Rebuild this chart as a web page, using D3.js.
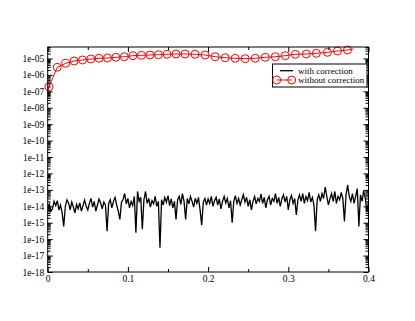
<!DOCTYPE html>
<html><head><meta charset="utf-8">
<script src="https://cdn.jsdelivr.net/npm/d3@7"></script>
<style>body{margin:0;background:#fff}svg{display:block}</style>
</head><body>
<script>
// ---- data ----
const xTickValues = [0, 0.1, 0.2, 0.3, 0.4];
const xTickLabels = ["0", "0.1", "0.2", "0.3", "0.4"];
const yTickValues = [1e-18,1e-17,1e-16,1e-15,1e-14,1e-13,1e-12,1e-11,1e-10,1e-9,1e-8,1e-7,1e-6,1e-5];
const yTickLabels = ["1e-18","1e-17","1e-16","1e-15","1e-14","1e-13","1e-12","1e-11","1e-10","1e-09","1e-08","1e-07","1e-06","1e-05"];
const seriesNames = ["with correction", "without correction"];

// "with correction": sampled every 0.002 from 0 to 0.4
const withStep = 0.002;
const withCorrection = [
 8e-15,1.4e-14,5e-15,7e-15,2e-14,1.1e-14,2.2e-14,6e-15,1.2e-14,4e-15,6e-16,1e-14,2.5e-14,1.6e-14,6e-15,1.8e-14,9e-15,4e-15,1.3e-14,7e-15,
 1.6e-14,5e-15,1.1e-14,2.4e-14,1e-14,6e-15,1.5e-14,3e-14,9e-15,2e-14,5e-15,1.2e-14,2.8e-14,1.6e-14,7e-15,1.8e-14,1.2e-14,3e-16,1.5e-14,2.5e-14,
 8e-15,2e-14,3.5e-14,1.2e-14,5e-15,1.6e-15,1.8e-14,2.6e-14,6e-14,1.4e-14,3e-14,8e-15,2e-14,1.1e-14,4e-14,2.5e-16,8e-14,2e-14,3.5e-14,4e-16,
 2.5e-14,8e-14,1.5e-14,3e-14,9e-15,2.2e-14,1.4e-14,4e-14,1e-14,2e-14,3e-17,2.5e-14,1.2e-14,3.5e-14,1.8e-14,4.5e-14,1.1e-14,2.8e-14,8e-15,2e-14,
 1.6e-15,2.5e-14,4e-14,1.3e-14,6e-14,2e-14,1.6e-15,3e-14,1.4e-14,4e-14,2e-14,9e-15,3e-14,1.5e-14,3.5e-14,6e-15,7e-16,1.8e-14,3e-14,1.2e-14,
 2.8e-14,1.5e-14,4e-14,1e-14,2.2e-14,3.5e-14,1.2e-14,2.8e-14,7e-15,2e-14,4e-14,1.6e-14,3e-14,8e-15,2.2e-14,1e-15,2e-14,4.5e-14,1.5e-14,3e-14,
 1.2e-14,2.5e-14,5e-14,1.8e-14,3.5e-14,1e-14,2.5e-14,6e-15,2e-14,4e-14,1.4e-14,3e-14,2e-14,5.5e-14,1.5e-14,3.5e-14,8e-15,2.5e-14,4e-14,1.2e-14,
 3e-14,2e-14,6e-14,1.5e-14,3.5e-14,1e-14,2.8e-14,5e-14,1.8e-14,4e-14,6e-15,2.5e-14,4.5e-14,1.5e-14,3e-14,3e-15,2.5e-14,5e-14,2e-14,6e-14,
 1.5e-14,4e-14,2.2e-14,7e-14,1.8e-14,3.5e-14,1.2e-14,3e-16,2.5e-14,5e-14,2e-14,6e-14,3e-14,1.5e-13,4e-14,1.2e-14,3e-14,6e-14,2e-14,8e-14,
 1.5e-14,4e-14,2.5e-14,7e-14,3e-14,1.2e-15,5e-14,2e-13,4e-14,2e-14,6e-14,1.5e-14,4e-14,1.2e-13,6e-16,5e-14,2e-14,9e-14,3e-14,5e-15,2e-14
];

// "without correction"
const withoutX = [0,0.0016,0.0119,0.0225,0.0329,0.0434,0.0538,0.0641,0.0746,0.085,0.0956,0.1063,0.1169,0.1275,0.1381,0.1488,0.16,
 0.1713,0.1838,0.1963,0.2088,0.2213,0.2338,0.2463,0.2588,0.2713,0.2838,0.2963,0.3088,0.3225,0.335,0.3488,0.3613,0.3738,0.3813];
const withoutY = [9e-8,1.9e-7,2.9e-6,5.1e-6,7.0e-6,8.1e-6,9.3e-6,1.03e-5,1.07e-5,1.18e-5,1.28e-5,1.48e-5,1.56e-5,1.63e-5,1.7e-5,1.8e-5,1.87e-5,
 1.87e-5,1.8e-5,1.63e-5,1.28e-5,1.11e-5,1.03e-5,9.7e-6,1.03e-5,1.18e-5,1.28e-5,1.48e-5,1.8e-5,1.87e-5,2.06e-5,2.37e-5,2.85e-5,3.28e-5,3.8e-5];
const withoutMarked = withoutX.map((d, i) => i > 0 && i < withoutX.length - 1);

// ---- layout ----
const W = 415, H = 321;
const L = 47.7, R = 368.5, T = 47, B = 272;
const font = "'Liberation Serif', 'Times New Roman', serif";

const svg = d3.select("body").append("svg").attr("width", W).attr("height", H)
  .style("background", "#fff");

const x = d3.scaleLinear().domain([0, 0.4]).range([L, R]);
const y = d3.scaleLog().domain([1e-18, 5e-5]).range([B, T]);

// minor ticks
const xMinor = [0.05, 0.15, 0.25, 0.35];
const yMinor = [];
for (let e = -18; e <= -5; e++) for (let k = 2; k <= 9; k++) {
  const v = k * Math.pow(10, e);
  if (v <= 5e-5 * 1.0001) yMinor.push(v);
}

function styleAxis(g) {
  g.select(".domain").remove();
  g.selectAll("line").attr("stroke", "#000").attr("stroke-width", 1);
  g.selectAll("text").attr("font-family", font).attr("font-size", 9.5).attr("fill", "#000");
}

// plot lines (clipped)
svg.append("clipPath").attr("id", "clip").append("rect")
  .attr("x", L).attr("y", T).attr("width", R - L).attr("height", B - T);
const plot = svg.append("g").attr("clip-path", "url(#clip)");

const lineWith = d3.line().x((d, i) => x(i * withStep)).y(d => y(d));
plot.append("path").datum(withCorrection).attr("d", lineWith)
  .attr("fill", "none").attr("stroke", "#000").attr("stroke-width", 1.3).attr("stroke-linejoin", "miter");

const redPts = withoutX.map((v, i) => ({ x: v, y: withoutY[i], m: withoutMarked[i] }));
const lineWithout = d3.line().x(d => x(d.x)).y(d => y(d.y)).curve(d3.curveLinear);
plot.append("path").datum(redPts).attr("d", lineWithout)
  .attr("fill", "none").attr("stroke", "#ff0000").attr("stroke-width", 1);
svg.append("g").selectAll("circle").data(redPts.filter(d => d.m)).join("circle")
  .attr("cx", d => x(d.x)).attr("cy", d => y(d.y)).attr("r", 4)
  .attr("fill", "none").attr("stroke", "#ff0000").attr("stroke-width", 1);

// axes
const gB = svg.append("g").attr("transform", `translate(0,${B})`)
  .call(d3.axisBottom(x).tickValues(xTickValues).tickFormat((d, i) => xTickLabels[i]).tickSize(-5).tickPadding(3));
styleAxis(gB);
const gBm = svg.append("g").attr("transform", `translate(0,${B})`)
  .call(d3.axisBottom(x).tickValues(xMinor).tickFormat("").tickSize(-3));
styleAxis(gBm);
const gT = svg.append("g").attr("transform", `translate(0,${T})`)
  .call(d3.axisTop(x).tickValues(xTickValues).tickFormat("").tickSize(-5));
styleAxis(gT);
const gTm = svg.append("g").attr("transform", `translate(0,${T})`)
  .call(d3.axisTop(x).tickValues(xMinor).tickFormat("").tickSize(-3));
styleAxis(gTm);

const gL = svg.append("g").attr("transform", `translate(${L},0)`)
  .call(d3.axisLeft(y).tickValues(yTickValues).tickFormat((d, i) => yTickLabels[i]).tickSize(-5).tickPadding(3.5));
styleAxis(gL);
const gLm = svg.append("g").attr("transform", `translate(${L},0)`)
  .call(d3.axisLeft(y).tickValues(yMinor).tickFormat("").tickSize(-3));
styleAxis(gLm);
const gR = svg.append("g").attr("transform", `translate(${R},0)`)
  .call(d3.axisRight(y).tickValues(yTickValues).tickFormat("").tickSize(-5));
styleAxis(gR);
const gRm = svg.append("g").attr("transform", `translate(${R},0)`)
  .call(d3.axisRight(y).tickValues(yMinor).tickFormat("").tickSize(-3));
styleAxis(gRm);

// frame
svg.append("rect").attr("x", L).attr("y", T).attr("width", R - L).attr("height", B - T)
  .attr("fill", "none").attr("stroke", "#000").attr("stroke-width", 1);

// legend
const lg = svg.append("g");
lg.append("rect").attr("x", 272.5).attr("y", 64).attr("width", 94.5).attr("height", 23)
  .attr("fill", "#fff").attr("stroke", "#000").attr("stroke-width", 1);
lg.append("line").attr("x1", 280).attr("x2", 293).attr("y1", 70.7).attr("y2", 70.7)
  .attr("stroke", "#000").attr("stroke-width", 1.3);
lg.append("line").attr("x1", 276.7).attr("x2", 291.7).attr("y1", 80).attr("y2", 80)
  .attr("stroke", "#ff0000").attr("stroke-width", 1);
[276.7, 291.7].forEach(cx => lg.append("circle").attr("cx", cx).attr("cy", 80).attr("r", 4)
  .attr("fill", "none").attr("stroke", "#ff0000").attr("stroke-width", 1));
lg.selectAll("text.lt").data(seriesNames).join("text").attr("class", "lt")
  .attr("x", 298).attr("y", (d, i) => 73.8 + i * 9.3)
  .attr("font-family", font).attr("font-size", 9).attr("fill", "#000").text(d => d);
</script>
</body></html>
